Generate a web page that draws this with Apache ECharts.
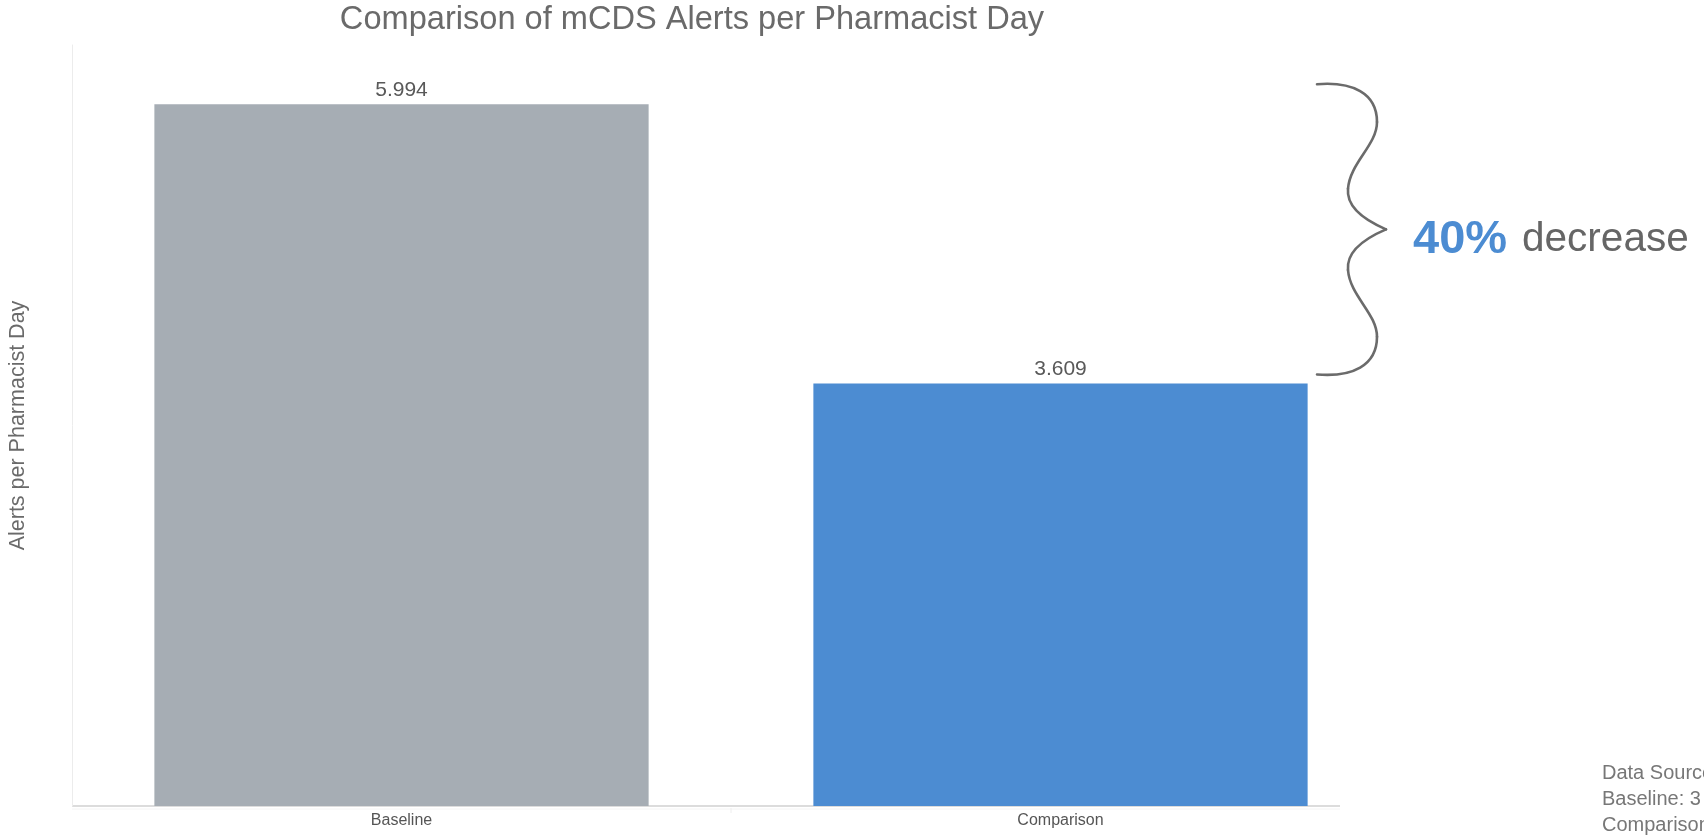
<!DOCTYPE html>
<html>
<head>
<meta charset="utf-8">
<style>
  html, body { margin: 0; padding: 0; background: #fff; }
  #chart { width: 1704px; height: 835px; }
</style>
<script src="https://cdn.jsdelivr.net/npm/echarts@6/dist/echarts.min.js"></script>
</head>
<body>
<div id="chart"></div>
<script>
// Alerts per pharmacist day, before and after the change
const categories = ['Baseline', 'Comparison'];
const alertsPerDay = [5.994, 3.609];
const barColors = ['#A6ADB4', '#4C8CD2'];
const yMax = 6.5;

const changeLabel = '40%';
const changeWord = 'decrease';
const noteLines = ['Data Source: EHR alert logs', 'Baseline: 3 months', 'Comparison: 3 months'];

const FONT = '"Liberation Sans", Arial, sans-serif';

const chart = echarts.init(document.getElementById('chart'), null, { renderer: 'canvas' });

chart.setOption({
  animation: false,
  backgroundColor: '#ffffff',
  title: {
    text: 'Comparison of mCDS Alerts per Pharmacist Day',
    left: 692,
    textAlign: 'center',
    top: 4,
    padding: 0,
    textStyle: { fontFamily: FONT, fontSize: 32.6, fontWeight: 'normal', color: '#6a6a6a' }
  },
  grid: { left: 72, right: 314, top: 45, bottom: 29, containLabel: false, outerBoundsMode: 'none' },
  xAxis: {
    type: 'category',
    data: categories,
    axisLine: { show: false },
    axisTick: { show: false },
    axisLabel: { fontFamily: FONT, fontSize: 16, color: '#555555', margin: 7 }
  },
  yAxis: {
    type: 'value',
    min: 0,
    max: yMax,
    name: 'Alerts per Pharmacist Day',
    nameLocation: 'middle',
    nameGap: 43,
    nameTextStyle: { fontFamily: FONT, fontSize: 21.5, color: '#6a6a6a' },
    axisLine: { show: true, lineStyle: { color: '#ececec', width: 1 } },
    axisTick: { show: false },
    axisLabel: { show: false },
    splitLine: { show: false }
  },
  series: [{
    type: 'bar',
    data: alertsPerDay.map((v, i) => ({ value: v, itemStyle: { color: barColors[i] } })),
    barWidth: '75%',
    label: {
      show: true,
      position: 'top',
      distance: 4,
      fontFamily: FONT,
      fontSize: 21,
      color: '#595959',
      formatter: p => p.value.toFixed(3)
    }
  }]
});

// Baseline rule, category divider, brace spanning the drop, change callout and notes
function drawAnnotation() {
  const y0 = chart.convertToPixel({ yAxisIndex: 0 }, 0);
  const xA = chart.convertToPixel({ xAxisIndex: 0 }, categories[0]);
  const xB = chart.convertToPixel({ xAxisIndex: 0 }, categories[1]);
  const xDiv = (xA + xB) / 2;
  const yTop = chart.convertToPixel({ yAxisIndex: 0 }, alertsPerDay[0]) - 20;
  const yBot = chart.convertToPixel({ yAxisIndex: 0 }, alertsPerDay[1]) - 9;
  const x0 = 1317;
  const H = yBot - yTop;
  const P = (dx, r) => [x0 + dx, yTop + r * H];
  // brace as cubic segments: [start, ctrl1, ctrl2, end]
  const segs = [
    [P(0, 0), P(35, -0.01), P(60, 0.03), P(60, 0.13)],
    [P(60, 0.13), P(60, 0.21), P(33, 0.27), P(31, 0.36)],
    [P(31, 0.36), P(29, 0.43), P(52, 0.475), P(69, 0.5)],
    [P(69, 0.5), P(52, 0.525), P(29, 0.57), P(31, 0.64)],
    [P(31, 0.64), P(33, 0.73), P(60, 0.79), P(60, 0.87)],
    [P(60, 0.87), P(60, 0.97), P(35, 1.01), P(0, 1)]
  ];
  const braceParts = segs.map(s => ({
    type: 'bezierCurve',
    shape: {
      x1: s[0][0], y1: s[0][1],
      cpx1: s[1][0], cpy1: s[1][1],
      cpx2: s[2][0], cpy2: s[2][1],
      x2: s[3][0], y2: s[3][1]
    },
    style: { fill: null, stroke: '#6b6b6b', lineWidth: 2.6, lineCap: 'round' },
    silent: true
  }));
  const midY = yTop + H / 2;

  chart.setOption({
    graphic: [
      {
        type: 'line',
        shape: { x1: 72, y1: y0, x2: 1340, y2: y0 },
        style: { stroke: '#dcdcdc', lineWidth: 2 },
        silent: true
      },
      {
        type: 'line',
        shape: { x1: 72, y1: y0 + 3, x2: 1340, y2: y0 + 3 },
        style: { stroke: '#f4f4f4', lineWidth: 1 },
        silent: true
      },
      {
        type: 'line',
        shape: { x1: xDiv, y1: y0 + 2, x2: xDiv, y2: y0 + 7 },
        style: { stroke: '#eeeeee', lineWidth: 1 },
        silent: true
      }
    ].concat(braceParts, [
      {
        type: 'text',
        left: 1413,
        top: midY - 13,
        style: {
          text: '{a|' + changeLabel + '}{b|' + changeWord + '}',
          rich: {
            a: { fontFamily: FONT, fontSize: 47, fontWeight: 'bold', fill: '#4C8CD2' },
            b: { fontFamily: FONT, fontSize: 40.5, fill: '#666666', padding: [0, 0, 0, 15] }
          }
        },
        silent: true
      },
      {
        type: 'text',
        left: 1602,
        top: 760,
        style: {
          text: noteLines.join('\n'),
          fontFamily: FONT,
          fontSize: 20,
          lineHeight: 26,
          fill: '#777777'
        },
        silent: true
      }
    ])
  });
}
drawAnnotation();
</script>
</body>
</html>
